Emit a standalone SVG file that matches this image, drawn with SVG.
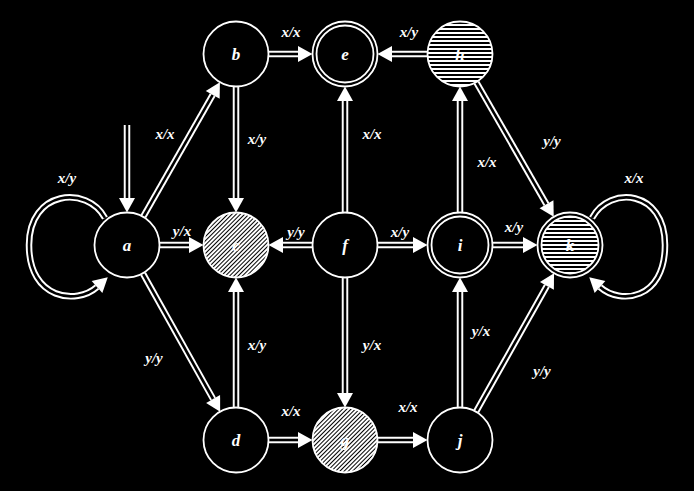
<svg xmlns="http://www.w3.org/2000/svg" width="694" height="491" viewBox="0 0 694 491">
<defs>
<style>
.n{fill:#000;stroke:#fff;stroke-width:1.8}
.hc{fill:url(#hatch);stroke:#fff;stroke-width:1.8}
.st{fill:url(#stripes);stroke:#fff;stroke-width:1.8}
.o{fill:none;stroke:#fff;stroke-width:6.5}
.i{fill:none;stroke:#000;stroke-width:2.6;marker-end:url(#ah)}
.lb{font-family:"Liberation Serif","Times New Roman",serif;font-style:italic;font-weight:bold;font-size:15px;fill:#fff;text-anchor:middle}
.nl{font-family:"Liberation Serif","Times New Roman",serif;font-style:italic;font-weight:bold;font-size:17px;fill:#fff;text-anchor:middle}
</style>
<marker id="ah" markerUnits="userSpaceOnUse" markerWidth="16" markerHeight="18" refX="0" refY="8" orient="auto" overflow="visible">
<path d="M0,0 L14.5,8 L0,16 z" fill="#fff"/>
</marker>
<pattern id="hatch" patternUnits="userSpaceOnUse" width="3" height="3" patternTransform="rotate(45)">
<rect width="3" height="3" fill="#fff"/>
<rect width="1" height="3" fill="#000"/>
</pattern>
<pattern id="stripes" patternUnits="userSpaceOnUse" width="4" height="4">
<rect width="4" height="2" fill="#fff"/>
<rect y="2" width="4" height="2" fill="#000"/>
</pattern>
</defs>
<rect width="694" height="491" fill="#000"/>
<g id="connectors">
<path class="o" d="M127,125 V198"/><path class="i" d="M127,125 V198"/>
<path class="o" d="M105,218 C87,185 29,190 29,245 C29,300 77,305 97,287"/><path class="i" d="M105,218 C87,185 29,190 29,245 C29,300 77,305 97,287"/>
<path class="o" d="M143.4,216.3 L212.7,94.9"/><path class="i" d="M143.4,216.3 L212.7,94.9"/>
<path class="o" d="M160,245 H189"/><path class="i" d="M160,245 H189"/>
<path class="o" d="M143.1,273.8 L213.1,399"/><path class="i" d="M143.1,273.8 L213.1,399"/>
<path class="o" d="M269,54 H298"/><path class="i" d="M269,54 H298"/>
<path class="o" d="M236,87 V198"/><path class="i" d="M236,87 V198"/>
<path class="o" d="M236,407 V292"/><path class="i" d="M236,407 V292"/>
<path class="o" d="M345,212 V101"/><path class="i" d="M345,212 V101"/>
<path class="o" d="M312,245 H283"/><path class="i" d="M312,245 H283"/>
<path class="o" d="M378,245 H413"/><path class="i" d="M378,245 H413"/>
<path class="o" d="M345,278 V393"/><path class="i" d="M345,278 V393"/>
<path class="o" d="M427,54 H392"/><path class="i" d="M427,54 H392"/>
<path class="o" d="M460,212 V101"/><path class="i" d="M460,212 V101"/>
<path class="o" d="M493,245 H523"/><path class="i" d="M493,245 H523"/>
<path class="o" d="M476.5,82.6 L546.5,204.3"/><path class="i" d="M476.5,82.6 L546.5,204.3"/>
<path class="o" d="M460,407 V292"/><path class="i" d="M460,407 V292"/>
<path class="o" d="M476.2,411.3 L546.9,285.9"/><path class="i" d="M476.2,411.3 L546.9,285.9"/>
<path class="o" d="M269,440 H298"/><path class="i" d="M269,440 H298"/>
<path class="o" d="M378,440 H413"/><path class="i" d="M378,440 H413"/>
<path class="o" d="M592,218 C610,185 665,190 665,245 C665,300 620,305 600,287"/><path class="i" d="M592,218 C610,185 665,190 665,245 C665,300 620,305 600,287"/>
</g>
<g id="edge-labels">
<text class="lb" x="67" y="183">x/y</text>
<text class="lb" x="165" y="139">x/x</text>
<text class="lb" x="182" y="236">y/x</text>
<text class="lb" x="154" y="363">y/y</text>
<text class="lb" x="291" y="37">x/x</text>
<text class="lb" x="257" y="144">x/y</text>
<text class="lb" x="257" y="350">x/y</text>
<text class="lb" x="372" y="139">x/x</text>
<text class="lb" x="296" y="237">y/y</text>
<text class="lb" x="400" y="237">x/y</text>
<text class="lb" x="372" y="350">y/x</text>
<text class="lb" x="409" y="37">x/y</text>
<text class="lb" x="487" y="167">x/x</text>
<text class="lb" x="552" y="146">y/y</text>
<text class="lb" x="514" y="232">x/y</text>
<text class="lb" x="481" y="336">y/x</text>
<text class="lb" x="542" y="376">y/y</text>
<text class="lb" x="291" y="416">x/x</text>
<text class="lb" x="408" y="412">x/x</text>
<text class="lb" x="634" y="183">x/x</text>
</g>
<g id="a"><circle class="n" cx="127" cy="245" r="32.5"/><text class="nl" x="127" y="251">a</text></g>
<g id="b"><circle class="n" cx="236" cy="54" r="32.5"/><text class="nl" x="236" y="60">b</text></g>
<g id="c"><circle class="hc" cx="236" cy="245" r="32.5"/><text class="nl" x="236" y="251">c</text></g>
<g id="d"><circle class="n" cx="236" cy="440" r="32.5"/><text class="nl" x="236" y="446">d</text></g>
<g id="e"><circle class="n" cx="345" cy="54" r="32.5"/><circle class="n" cx="345" cy="54" r="28.5"/><text class="nl" x="345" y="60">e</text></g>
<g id="f"><circle class="n" cx="345" cy="245" r="32.5"/><text class="nl" x="345" y="251">f</text></g>
<g id="g"><circle class="hc" cx="345" cy="440" r="32.5"/><text class="nl" x="345" y="446">g</text></g>
<g id="h"><circle class="st" cx="460" cy="54" r="32.5"/><text class="nl" x="460" y="60">h</text></g>
<g id="i"><circle class="n" cx="460" cy="245" r="32.5"/><circle class="n" cx="460" cy="245" r="28.5"/><text class="nl" x="460" y="251">i</text></g>
<g id="j"><circle class="n" cx="460" cy="440" r="32.5"/><text class="nl" x="460" y="446">j</text></g>
<g id="k"><circle class="n" cx="570" cy="245" r="32.5"/><circle class="st" cx="570" cy="245" r="28.5"/><text class="nl" x="570" y="251">k</text></g>
</svg>
